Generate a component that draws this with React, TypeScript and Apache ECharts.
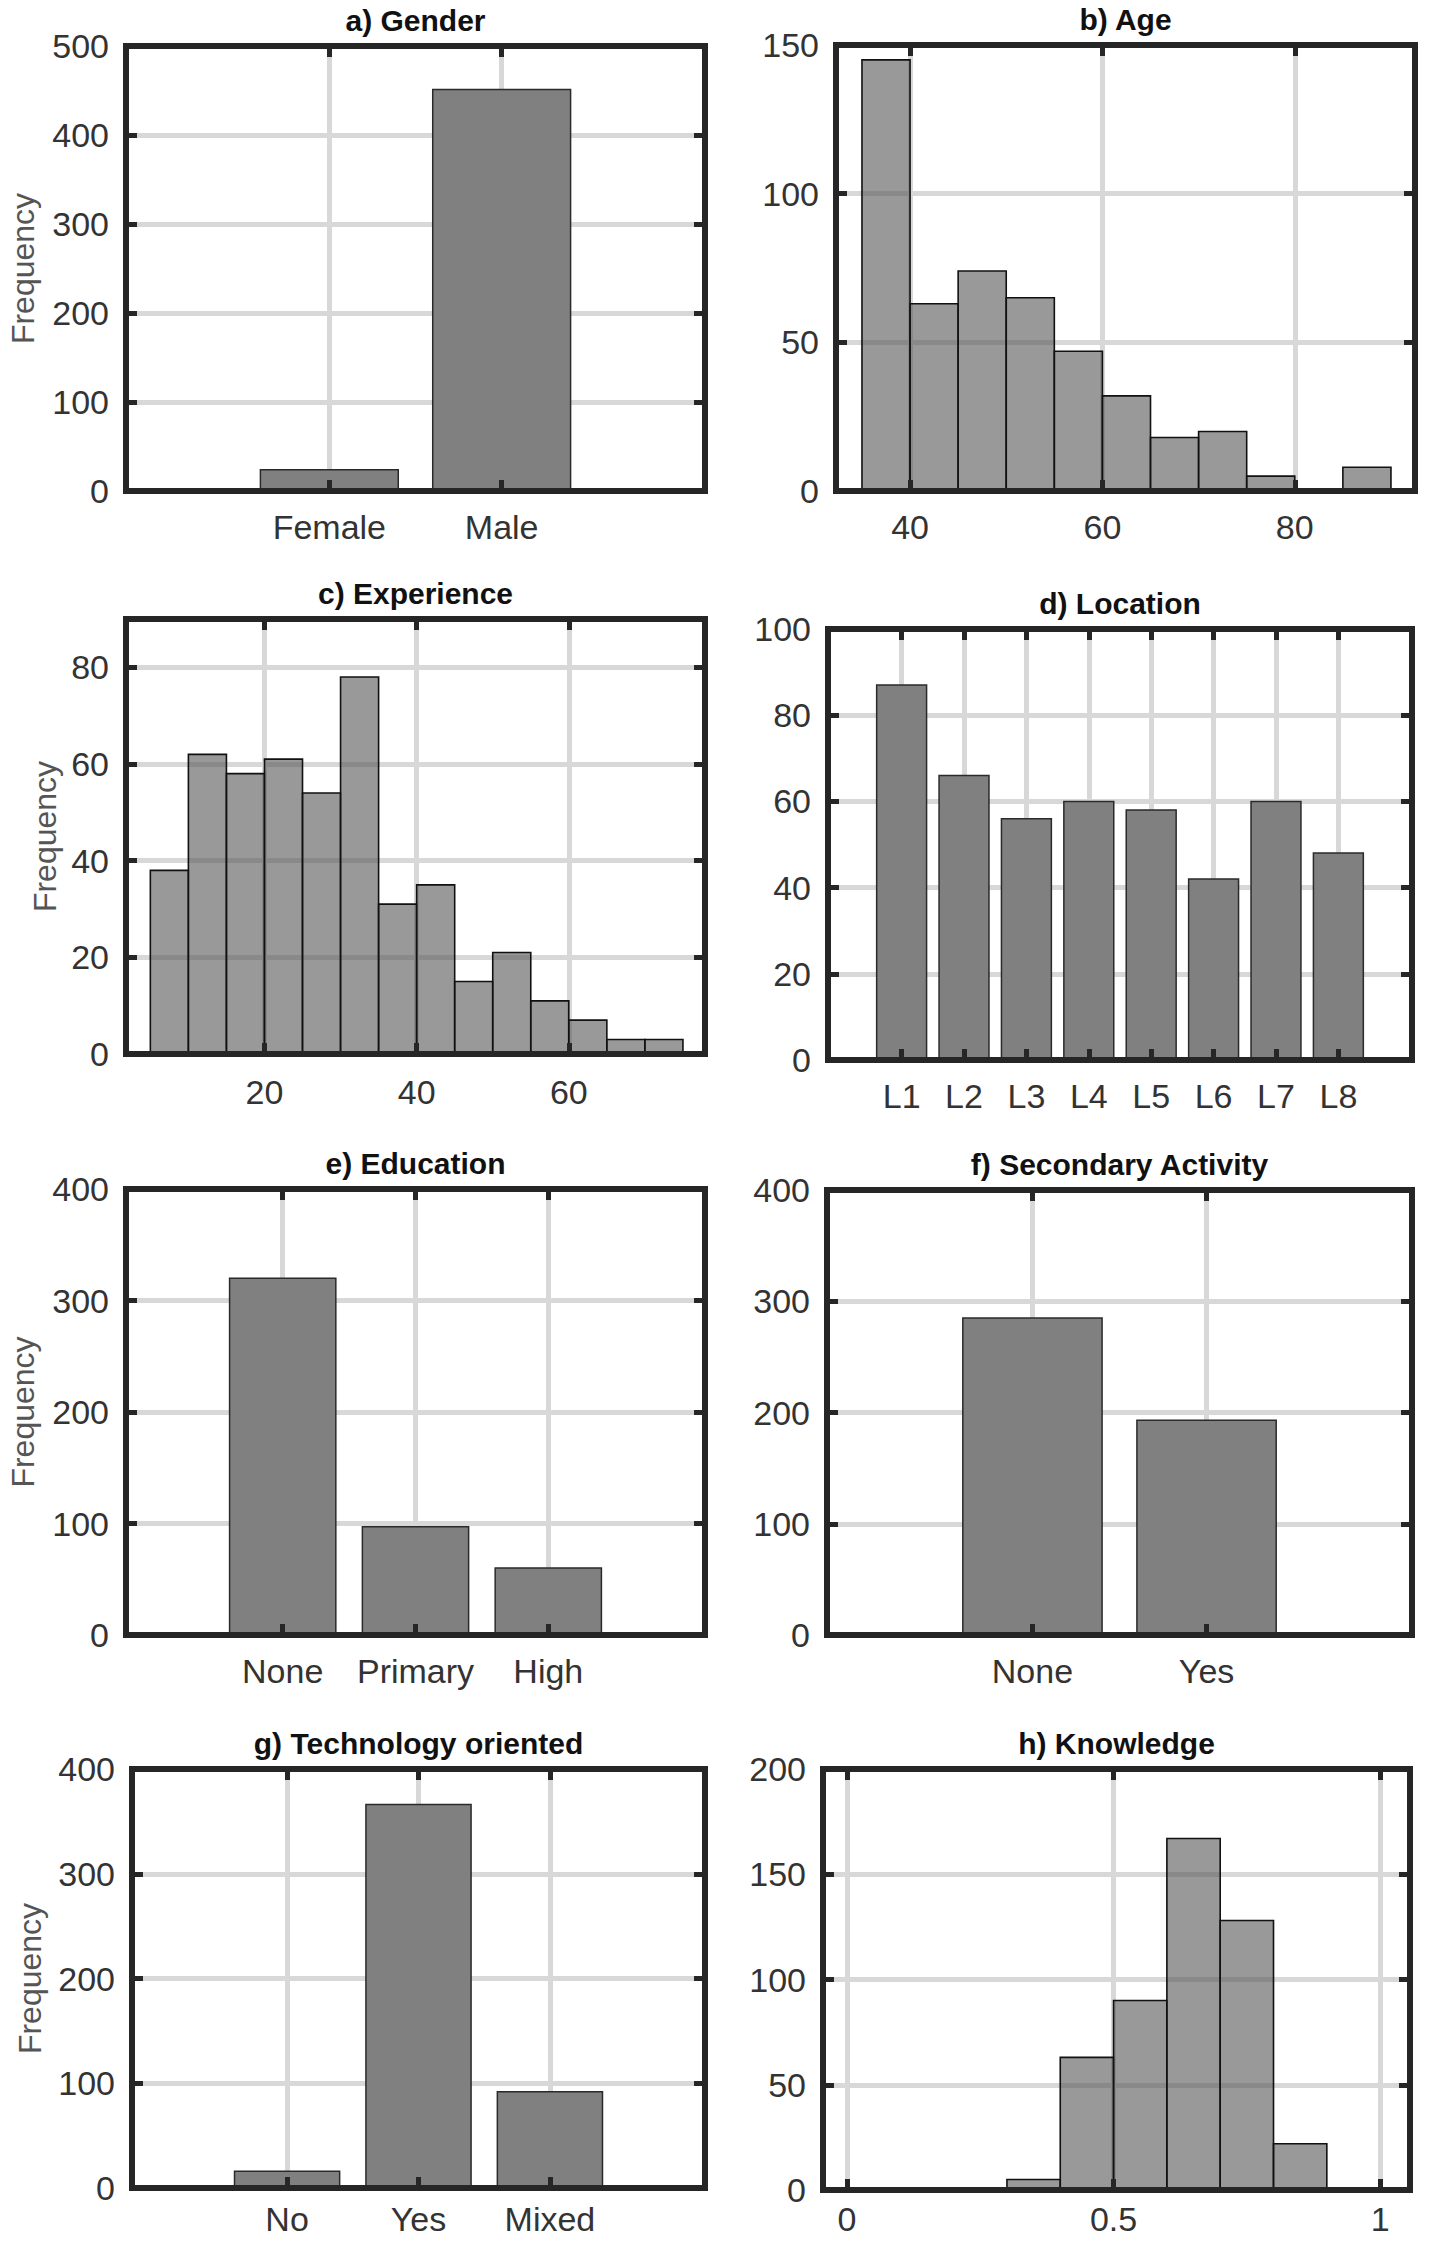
import React, { useEffect, useRef } from "react";
import * as echarts from "echarts";

// ---------------- data ----------------
const genderCats = ["Female", "Male"];
const genderCounts = [24, 451];

const ageEdges = [35, 40, 45, 50, 55, 60, 65, 70, 75, 80, 85, 90];
const ageCounts = [145, 63, 74, 65, 47, 32, 18, 20, 5, 0, 8];

const expEdges = [5, 10, 15, 20, 25, 30, 35, 40, 45, 50, 55, 60, 65, 70, 75];
const expCounts = [38, 62, 58, 61, 54, 78, 31, 35, 15, 21, 11, 7, 3, 3];

const locationCats = ["L1", "L2", "L3", "L4", "L5", "L6", "L7", "L8"];
const locationCounts = [87, 66, 56, 60, 58, 42, 60, 48];

const eduCats = ["None", "Primary", "High"];
const eduCounts = [320, 97, 60];

const secCats = ["None", "Yes"];
const secCounts = [285, 193];

const techCats = ["No", "Yes", "Mixed"];
const techCounts = [16, 366, 92];

const knowEdges = [0.3, 0.4, 0.5, 0.6, 0.7, 0.8, 0.9];
const knowCounts = [5, 63, 90, 167, 128, 22];

// tick values
const genderYTicks = [0, 100, 200, 300, 400, 500];
const ageXTicks = [40, 60, 80];
const ageYTicks = [0, 50, 100, 150];
const expXTicks = [20, 40, 60];
const expYTicks = [0, 20, 40, 60, 80];
const locYTicks = [0, 20, 40, 60, 80, 100];
const eduYTicks = [0, 100, 200, 300, 400];
const secYTicks = [0, 100, 200, 300, 400];
const techYTicks = [0, 100, 200, 300, 400];
const knowXTicks = [0, 0.5, 1];
const knowYTicks = [0, 50, 100, 150, 200];

const titles = [
  "a) Gender",
  "b) Age",
  "c) Experience",
  "d) Location",
  "e) Education",
  "f) Secondary Activity",
  "g) Technology oriented",
  "h) Knowledge",
];

// ---------------- layout / style ----------------
const FONT = '"Liberation Sans", Arial, Helvetica, sans-serif';
const AXIS_COLOR = "#262626";
const GRID_COLOR = "#d8d8d8";

type Panel = {
  box: [number, number, number, number];
  kind: "cat" | "hist";
  cats?: string[];
  counts: number[];
  edges?: number[];
  xRange: [number, number];
  xTicks: number[];
  yMax: number;
  yTicks: number[];
  ylabel?: number; // nameGap
  labelMargin: number;
};

const idx = (arr: string[]) => arr.map((_, i) => i + 1);

const panels: Panel[] = [
  { box: [126, 46, 705, 491], kind: "cat", cats: genderCats, counts: genderCounts, xRange: [-0.18, 3.18], xTicks: idx(genderCats), yMax: 500, yTicks: genderYTicks, ylabel: 87, labelMargin: 19 },
  { box: [836, 45, 1415, 491], kind: "hist", edges: ageEdges, counts: ageCounts, xRange: [32.3, 92.5], xTicks: ageXTicks, yMax: 150, yTicks: ageYTicks, labelMargin: 19 },
  { box: [126, 619, 705, 1054], kind: "hist", edges: expEdges, counts: expCounts, xRange: [1.8, 77.9], xTicks: expXTicks, yMax: 90, yTicks: expYTicks, ylabel: 65, labelMargin: 21 },
  { box: [828, 629, 1412, 1060], kind: "cat", cats: locationCats, counts: locationCounts, xRange: [-0.18, 9.18], xTicks: idx(locationCats), yMax: 100, yTicks: locYTicks, labelMargin: 19 },
  { box: [126, 1189, 705, 1635], kind: "cat", cats: eduCats, counts: eduCounts, xRange: [-0.18, 4.18], xTicks: idx(eduCats), yMax: 400, yTicks: eduYTicks, ylabel: 87, labelMargin: 19 },
  { box: [827, 1190, 1412, 1635], kind: "cat", cats: secCats, counts: secCounts, xRange: [-0.18, 3.18], xTicks: idx(secCats), yMax: 400, yTicks: secYTicks, labelMargin: 19 },
  { box: [132, 1769, 705, 2188], kind: "cat", cats: techCats, counts: techCounts, xRange: [-0.18, 4.18], xTicks: idx(techCats), yMax: 400, yTicks: techYTicks, ylabel: 86, labelMargin: 14 },
  { box: [823, 1769, 1410, 2190], kind: "hist", edges: knowEdges, counts: knowCounts, xRange: [-0.045, 1.056], xTicks: knowXTicks, yMax: 200, yTicks: knowYTicks, labelMargin: 12 },
];

function buildOption() {
  const grid: any[] = [];
  const xAxis: any[] = [];
  const yAxis: any[] = [];
  const series: any[] = [];
  const graphic: any[] = [];

  const lineAxis = (ticks: number[]) => ({
    axisLine: { show: true, onZero: false, lineStyle: { color: AXIS_COLOR, width: 6, cap: "square" } },
    axisTick: { show: true, inside: true, length: 11, customValues: ticks, lineStyle: { color: AXIS_COLOR, width: 5 } },
    axisLabel: { show: false },
    splitLine: { show: false },
    z: 10,
  });

  panels.forEach((p, i) => {
    const [L, T, R, B] = p.box;
    grid.push({ left: L, top: T, width: R - L, height: B - T, show: false });

    const cats = p.cats;
    const xFormatter = (v: number) => {
      if (cats) return cats[Math.round(v) - 1] ?? "";
      return String(v);
    };

    // main x (labels + vertical grid lines)
    xAxis.push({
      type: "value",
      gridIndex: i,
      position: "bottom",
      min: p.xRange[0],
      max: p.xRange[1],
      axisLine: { show: false, onZero: false },
      axisTick: { show: false, customValues: p.xTicks },
      axisLabel: {
        show: true,
        customValues: p.xTicks,
        formatter: xFormatter,
        margin: p.labelMargin,
        fontSize: 34,
        fontFamily: FONT,
        color: "#333333",
      },
      splitLine: { show: true, lineStyle: { color: GRID_COLOR, width: 5 } },
      z: 0,
    });
    xAxis.push({ type: "value", gridIndex: i, position: "bottom", min: p.xRange[0], max: p.xRange[1], ...lineAxis(p.xTicks) });
    xAxis.push({ type: "value", gridIndex: i, position: "top", min: p.xRange[0], max: p.xRange[1], ...lineAxis(p.xTicks) });

    yAxis.push({
      type: "value",
      gridIndex: i,
      position: "left",
      min: 0,
      max: p.yMax,
      axisLine: { show: false, onZero: false },
      axisTick: { show: false, customValues: p.yTicks },
      axisLabel: {
        show: true,
        customValues: p.yTicks,
        margin: 17,
        fontSize: 34,
        fontFamily: FONT,
        color: "#333333",
      },
      splitLine: { show: true, lineStyle: { color: GRID_COLOR, width: 5 } },
      name: p.ylabel ? "Frequency" : "",
      nameLocation: "middle",
      nameGap: p.ylabel ?? 0,
      nameTextStyle: { fontSize: 32, fontFamily: FONT, color: "#555555" },
      z: 0,
    });
    yAxis.push({ type: "value", gridIndex: i, position: "left", min: 0, max: p.yMax, ...lineAxis(p.yTicks) });
    yAxis.push({ type: "value", gridIndex: i, position: "right", min: 0, max: p.yMax, ...lineAxis(p.yTicks) });

    if (p.kind === "cat") {
      const data = p.counts.map((c, k) => [k + 1, c]);
      series.push({
        type: "custom",
        xAxisIndex: i * 3,
        yAxisIndex: i * 3,
        data,
        encode: { x: 0, y: 1 },
        z: 2,
        renderItem: (_params: any, api: any) => {
          const x = api.value(0);
          const v = api.value(1);
          if (!v) return null;
          const tl = api.coord([x - 0.4, v]);
          const br = api.coord([x + 0.4, 0]);
          return {
            type: "rect",
            shape: { x: tl[0], y: tl[1], width: br[0] - tl[0], height: br[1] - tl[1] },
            style: { fill: "#808080", stroke: "#2a2a2a", lineWidth: 1.5 },
          };
        },
      });
    } else {
      const e = p.edges as number[];
      const data = p.counts.map((c, k) => [e[k], e[k + 1], c]);
      series.push({
        type: "custom",
        xAxisIndex: i * 3,
        yAxisIndex: i * 3,
        data,
        encode: { x: [0, 1], y: 2 },
        z: 2,
        renderItem: (_params: any, api: any) => {
          const x0 = api.value(0);
          const x1 = api.value(1);
          const v = api.value(2);
          if (!v) return null;
          const tl = api.coord([x0, v]);
          const br = api.coord([x1, 0]);
          return {
            type: "rect",
            shape: { x: tl[0], y: tl[1], width: br[0] - tl[0], height: br[1] - tl[1] },
            style: { fill: "rgba(85,85,85,0.6)", stroke: "#111111", lineWidth: 1.6 },
          };
        },
      });
    }

    graphic.push({
      type: "text",
      x: (L + R) / 2,
      y: T - 26,
      z: 20,
      style: {
        text: titles[i],
        fontSize: 30,
        fontWeight: "bold",
        fontFamily: FONT,
        fill: "#111111",
        textAlign: "center",
        textVerticalAlign: "middle",
        align: "center",
        verticalAlign: "middle",
      },
    });
  });

  return {
    animation: false,
    backgroundColor: "#ffffff",
    grid,
    xAxis,
    yAxis,
    series,
    graphic: { elements: graphic },
  };
}

export default function App() {
  const ref = useRef<HTMLDivElement>(null);
  useEffect(() => {
    document.body.style.margin = "0";
    if (!ref.current) return;
    const chart = echarts.init(ref.current, undefined, { renderer: "svg" });
    chart.setOption(buildOption() as any);
    return () => chart.dispose();
  }, []);
  return <div ref={ref} style={{ width: 1429, height: 2243, background: "#fff" }} />;
}
